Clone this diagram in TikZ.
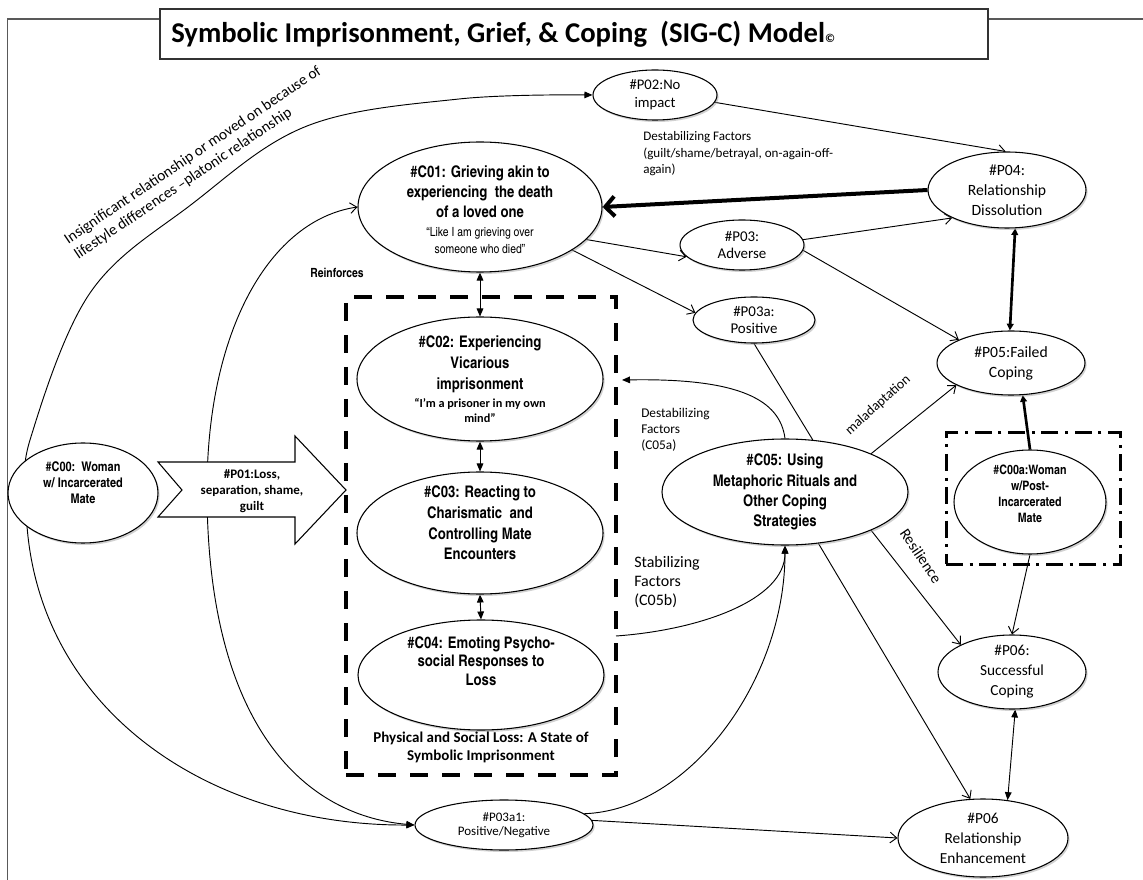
\documentclass[tikz,border=0pt]{standalone}
\usepackage{fontspec}
\setmainfont{Carlito}
\newfontfamily\cnfont{texgyreheroscn-regular.otf}[BoldFont=texgyreheroscn-bold.otf]
\usetikzlibrary{shapes.geometric,arrows.meta,shadows,backgrounds}
\begin{document}
\begin{tikzpicture}[x=0.75pt,y=-0.75pt,
  ell/.style={ellipse, draw, fill=white, line width=0.8pt, inner sep=0pt,
    drop shadow={shadow xshift=1.2pt, shadow yshift=-1.5pt, fill=black!40, opacity=0.45}},
  ctext/.style={font=\cnfont\bfseries\fontsize{12}{15}\selectfont, align=center, inner sep=0pt},
  ptext/.style={font=\fontsize{11.5}{15}\selectfont, align=center, inner sep=0pt},
  lbl/.style={inner sep=0pt},
  conn/.style={line width=0.7pt, draw=black},
  oarr/.style={conn, -{Straight Barb[length=5pt,width=8pt]}},
  farr/.style={conn, -{Triangle[length=6pt,width=5pt]}},
  bfarr/.style={conn, {Triangle[length=6pt,width=5pt]}-{Triangle[length=6pt,width=5pt]}},
  sibox/.style={draw, line width=3pt, dash pattern=on 13.5pt off 10.5pt,
    minimum width=202.5pt, minimum height=358.5pt, inner sep=0pt},
  dotbox/.style={draw, line width=2.25pt, dash pattern=on 12.75pt off 5pt on 2.25pt off 5pt,
    minimum width=130.5pt, minimum height=98.25pt, inner sep=0pt},
  frame/.style={draw=black!65, line width=0.9pt}
]
\useasboundingbox (0,0) rectangle (1143,880);

% frame and title
\draw[frame] (160,19) -- (7.5,19) -- (7.5,881);
\draw[frame] (988,19) -- (1144,19);
\node[draw=black!80, line width=0.9pt, fill=white, minimum width=621pt, minimum height=37.5pt, inner sep=0pt] (title) at (574,34) {};
\node[anchor=base west, inner sep=0pt, font=\bfseries\fontsize{21.5}{24}\selectfont] (titletext) at (171,43)
  {Symbolic Imprisonment, Grief, \& Coping\ \ (SIG-C) Model{\fontsize{9}{9}\selectfont ©}};

% boxes
\node[sibox] (SI) at (481,536) {};
\node[dotbox] (PIbox) at (1033,498.5) {};

% ellipses
\node[ell, minimum width=93pt, minimum height=37.5pt,
  label={[ptext, font=\fontsize{11}{13.5}\selectfont]center:{\#P02:No\\impact}}] (P02) at (655,95) {};
\node[ell, minimum width=183pt, minimum height=97.5pt,
  label={[ctext, yshift=-2pt]center:{\#C01: Grieving akin to\\experiencing\ \ the death\\of a loved one\\[-0.75pt]
  {\mdseries\fontsize{9.5}{12}\selectfont “Like I am grieving over}\\[-2.5pt]
  {\mdseries\fontsize{9.5}{12}\selectfont someone who died”}}}] (C01) at (480,207) {};
\node[ell, minimum width=118.5pt, minimum height=57pt,
  label={[ptext, font=\fontsize{11.75}{15}\selectfont]center:{\#P04:\\Relationship\\Dissolution}}] (P04) at (1007,190) {};
\node[ell, minimum width=93pt, minimum height=37.5pt,
  label={[ptext, font=\fontsize{11.2}{12.75}\selectfont]center:{\#P03:\\Adverse}}] (P03) at (742,245) {};
\node[ell, minimum width=91.5pt, minimum height=34.5pt,
  label={[ptext, font=\fontsize{11.2}{12.75}\selectfont]center:{\#P03a:\\Positive}}] (P03a) at (754,320) {};
\node[ell, minimum width=111pt, minimum height=48pt,
  label={[ptext, font=\fontsize{11.75}{15}\selectfont]center:{\#P05:Failed\\Coping}}] (P05) at (1011,363) {};
\node[ell, minimum width=184.5pt, minimum height=93pt,
  label={[ctext, font=\cnfont\bfseries\fontsize{12}{15.75}\selectfont]center:{\#C02: Experiencing\\Vicarious\\imprisonment\\[-2.25pt]
  {\rmfamily\fontsize{9.2}{11}\selectfont “I’m a prisoner in my own}\\[-4.5pt]
  {\rmfamily\fontsize{9.2}{11}\selectfont mind”}}}] (C02) at (480,379) {};
\node[ell, minimum width=184.5pt, minimum height=91.5pt,
  label={[ctext, font=\cnfont\bfseries\fontsize{12}{15.5}\selectfont, yshift=7.5pt]center:{\#C03: Reacting to\\Charismatic\ \ and\\Controlling Mate\\Encounters}}] (C03) at (480,533) {};
\node[ell, minimum width=184.5pt, minimum height=82.5pt,
  label={[ctext, font=\cnfont\bfseries\fontsize{12}{13.9}\selectfont, yshift=10.5pt]center:{\#C04: Emoting Psycho-\\social Responses to\\Loss}}] (C04) at (481,675) {};
\node[ell, minimum width=184.5pt, minimum height=79.5pt,
  label={[ctext, font=\cnfont\bfseries\fontsize{12}{15.2}\selectfont]center:{\#C05: Using\\Metaphoric Rituals and\\Other Coping\\Strategies}}] (C05) at (785,492) {};
\node[ell, minimum width=112.5pt, minimum height=75pt,
  label={[ctext, font=\cnfont\bfseries\fontsize{10}{12}\selectfont, yshift=7.5pt]center:{\#C00:\ \ Woman\\w/ Incarcerated\\Mate}}] (C00) at (83,493) {};
\node[ell, minimum width=114pt, minimum height=78pt,
  label={[ctext, font=\cnfont\bfseries\fontsize{9.75}{12}\selectfont, yshift=6pt]center:{\#C00a:Woman\\w/Post-\\Incarcerated\\Mate}}] (C00a) at (1030,502) {};
\node[ell, minimum width=111pt, minimum height=55.5pt,
  label={[ptext]center:{\#P06:\\Successful\\Coping}}] (P06SC) at (1012,672) {};
\node[ell, minimum width=127.5pt, minimum height=58.5pt,
  label={[ptext]center:{\#P06\\Relationship\\Enhancement}}] (P06RE) at (983,838) {};
\node[ell, minimum width=133.5pt, minimum height=37.5pt,
  label={[ptext, font=\fontsize{9.75}{10.5}\selectfont]center:{\#P03a1:\\Positive/Negative}}] (P03a1) at (504,825) {};

% block arrow P01
\draw[line width=0.8pt, fill=white] (158,462) -- (295,462) -- (295,436) -- (346,490) -- (295,544) -- (295,517) -- (158,517) -- (182,490) -- cycle;
\node[lbl, align=center, font=\bfseries\fontsize{9.75}{12}\selectfont] (P01) at (252,491) {\#P01:Loss,\\separation, shame,\\guilt};

% text labels
\node[lbl, rotate=34, align=left, font=\fontsize{11.5}{13.5}\selectfont] (insig) at (198,163)
  {Insignificant relationship or moved on because of\\lifestyle differences –platonic relationship};
\node[lbl, font=\cnfont\bfseries\fontsize{9.5}{11}\selectfont] (reinf) at (337,273) {Reinforces};
\node[lbl, anchor=west, align=left, font=\fontsize{9.8}{12.4}\selectfont] (destabA) at (643,154)
  {Destabilizing Factors\\(guilt/shame/betrayal, on-again-off-\\again)};
\node[lbl, anchor=west, align=left, font=\fontsize{10}{11.8}\selectfont] (destabB) at (641,430)
  {Destabilizing\\Factors\\(C05a)};
\node[lbl, anchor=west, align=left, font=\fontsize{12}{14.3}\selectfont] (stab) at (634,582)
  {Stabilizing\\Factors\\(C05b)};
\node[lbl, rotate=42, font=\fontsize{10.4}{12}\selectfont] (malad) at (878,405) {maladaptation};
\node[lbl, rotate=-56, font=\fontsize{11.5}{13}\selectfont] (resil) at (921,556) {Resilience};
\node[lbl, align=center, font=\bfseries\fontsize{11.25}{13.5}\selectfont] (physloss) at (481,747)
  {Physical and Social Loss: A State of\\Symbolic Imprisonment};

% free ends
\coordinate (oL) at (26,500);
\coordinate (iL) at (207,490);
\coordinate (stabS) at (616,636);
\coordinate (destabE) at (622,380);

\begin{scope}[on background layer]
\draw[farr] plot[smooth, tension=0.6] coordinates {(oL) (30,440) (90,293) (192,204) (307,126) (459,99) (P02.west)};
\draw[farr] (oL) .. controls (26,700) and (200,826) .. (P03a1.west);
\draw[oarr] (iL) .. controls (207,330) and (270,220) .. (C01.west);
\draw[farr] (iL) .. controls (207,720) and (300,815) .. (P03a1.west);
\draw[oarr] (P02.-7) -- (P04.92);
\draw[line width=3pt, -{Straight Barb[length=7pt,width=15pt]}] (P04.west) -- (C01.east);
\draw[oarr] (C01.-17) -- (P03.192);
\draw[oarr] (C01.-25) -- (P03a.173);
\draw[oarr] (P03.5) -- (P04.207);
\draw[oarr] (P03.-5) -- (P05.156);
\draw[line width=2pt, {Triangle[length=5pt,width=5pt]}-{Triangle[length=5pt,width=5pt]}] (P04.-78) -- (P05.92);
\draw[line width=2pt, -{Triangle[length=5pt,width=5pt]}] (C00a.north) -- (P05.-70);
\draw[conn] (P03a.south) -- (C05.62);
\draw[oarr] (C05.24) -- (P05.202);
\draw[oarr] (C05.-24) -- (P06SC.152);
\draw[oarr] (C05.-57) -- (P06RE.108);
\draw[oarr] (C00a.south) -- (P06SC.north);
\draw[bfarr] (P06SC.-85) -- (P06RE.57);
\draw[oarr] (P03a1.3) -- (P06RE.180);
\draw[farr] (P03a1.8) .. controls (690,810) and (785,680) .. (C05.south);
\draw[farr] (stabS) .. controls (700,630) and (785,600) .. (C05.south);
\draw[farr] (C05.north) .. controls (780,400) and (740,378) .. (destabE);
\draw[bfarr] (C01.south) -- (C02.north);
\draw[bfarr] (C02.south) -- (C03.north);
\draw[bfarr] (C03.south) -- (C04.north);
\end{scope}
\end{tikzpicture}
\end{document}
